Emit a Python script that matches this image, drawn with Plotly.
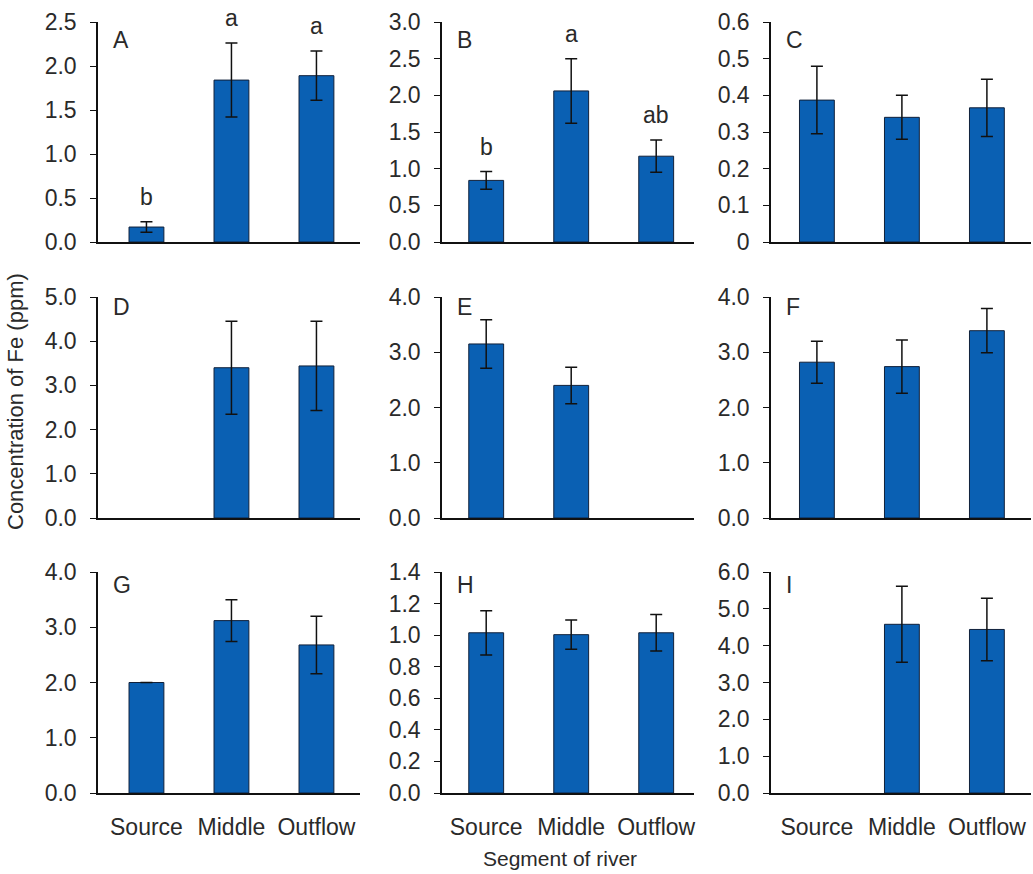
import plotly.graph_objects as go

# River segments sampled
segments = ["Source", "Middle", "Outflow"]
panel_names = ["A", "B", "C", "D", "E", "F", "G", "H", "I"]

# Mean Fe concentration (ppm) and standard error per segment, one list per panel
mean_A = [0.17, 1.84, 1.89]
err_A = [0.06, 0.42, 0.28]
sig_A = ["b", "a", "a"]

mean_B = [0.84, 2.06, 1.17]
err_B = [0.12, 0.44, 0.22]
sig_B = ["b", "a", "ab"]

mean_C = [0.387, 0.340, 0.366]
err_C = [0.092, 0.060, 0.078]

mean_D = [None, 3.40, 3.44]
err_D = [0, 1.05, 1.01]

mean_E = [3.15, 2.40, None]
err_E = [0.44, 0.33, 0]

mean_F = [2.82, 2.74, 3.39]
err_F = [0.38, 0.48, 0.40]

mean_G = [2.00, 3.12, 2.68]
err_G = [0, 0.38, 0.52]

mean_H = [1.015, 1.003, 1.015]
err_H = [0.14, 0.093, 0.115]

mean_I = [None, 4.58, 4.44]
err_I = [0, 1.03, 0.85]

# Y-axis limits and tick step per panel
y_max = [2.5, 3.0, 0.6, 5.0, 4.0, 4.0, 4.0, 1.4, 6.0]
y_step = [0.5, 0.5, 0.1, 1.0, 1.0, 1.0, 1.0, 0.2, 1.0]
y_fmt = [".1f", ".1f", "", ".1f", ".1f", ".1f", ".1f", ".1f", ".1f"]

means = [mean_A, mean_B, mean_C, mean_D, mean_E, mean_F, mean_G, mean_H, mean_I]
errs = [err_A, err_B, err_C, err_D, err_E, err_F, err_G, err_H, err_I]
sigs = {0: sig_A, 1: sig_B}

W, H = 1033, 874
BAR_COLOR = "#0a60b3"
TXT = "#2a2a2a"
FONT = "Liberation Sans, Arial, sans-serif"
FS = 23

# Panel geometry in pixels
col_left = [98, 442, 771]
col_range = [(-0.57, 2.51), (-0.52, 2.45), (-0.54, 2.52)]
unit_px = 85.0
row_top = [22, 297, 572]
row_bottom = [242, 518, 793]
letter_shift = [-3, 5, 2]

fig = go.Figure()
annotations = []
layout = {}

for k in range(9):
    r, c = divmod(k, 3)
    ax = "" if k == 0 else str(k + 1)
    x0 = col_left[c]
    lo, hi = col_range[c]
    x1 = x0 + (hi - lo) * unit_px
    xd = [x0 / W, min(x1 / W, 1.0)]
    yd = [1 - row_bottom[r] / H, 1 - row_top[r] / H]

    fig.add_trace(go.Bar(
        x=[0, 1, 2], y=means[k],
        width=0.41,
        marker=dict(color=BAR_COLOR, line=dict(color="#10203a", width=1)),
        error_y=dict(type="data", array=errs[k], visible=True,
                     color="#111111", thickness=1.5, width=6),
        xaxis="x" + ax, yaxis="y" + ax, showlegend=False,
    ))

    bottom_row = r == 2
    layout["xaxis" + ax] = dict(
        domain=xd, range=[lo, hi], anchor="y" + ax,
        automargin=False,
        showline=True, linecolor="#111111", linewidth=1.5,
        showgrid=False, zeroline=False,
        tickmode="array", tickvals=[0, 1, 2],
        ticktext=segments if bottom_row else ["", "", ""],
        showticklabels=bottom_row,
        ticks="outside", ticklen=13, tickcolor="rgba(0,0,0,0)",
        tickfont=dict(family=FONT, size=FS, color=TXT),
        fixedrange=True,
    )
    layout["yaxis" + ax] = dict(
        domain=yd, range=[0, y_max[k]], anchor="x" + ax,
        automargin=False,
        showline=True, linecolor="#111111", linewidth=1.5,
        showgrid=False, zeroline=False,
        tick0=0, dtick=y_step[k], tickformat=y_fmt[k],
        ticks="outside", ticklen=6, tickwidth=1.3, tickcolor="#111111",
        tickfont=dict(family=FONT, size=FS, color=TXT),
        ticklabelstandoff=9,
        fixedrange=True,
    )

    # Panel letter
    annotations.append(dict(
        text=panel_names[k], xref="paper", yref="paper",
        x=(x0 + 13) / W, y=yd[1], xanchor="left", yanchor="top",
        yshift=letter_shift[r], showarrow=False,
        font=dict(family=FONT, size=FS, color=TXT),
    ))

    # Significance letters above the error bars
    if k in sigs:
        for i, lab in enumerate(sigs[k]):
            annotations.append(dict(
                text=lab, xref="x" + ax, yref="y" + ax,
                x=i, y=means[k][i] + errs[k][i],
                xanchor="center", yanchor="bottom", yshift=10,
                showarrow=False,
                font=dict(family=FONT, size=FS, color=TXT),
            ))

annotations.append(dict(
    text="Concentration of Fe (ppm)", xref="paper", yref="paper",
    x=16 / W, y=1 - 402 / H, textangle=-90,
    xanchor="center", yanchor="middle", showarrow=False,
    font=dict(family=FONT, size=22, color=TXT),
))
annotations.append(dict(
    text="Segment of river", xref="paper", yref="paper",
    x=560 / W, y=1 - 858 / H,
    xanchor="center", yanchor="middle", showarrow=False,
    font=dict(family=FONT, size=21, color=TXT),
))

fig.update_layout(
    template="none",
    width=W, height=H,
    margin=dict(l=0, r=0, t=0, b=0, autoexpand=False),
    paper_bgcolor="white", plot_bgcolor="white",
    bargap=0.5,
    annotations=annotations,
    **layout,
)

fig.write_html("out.html")
